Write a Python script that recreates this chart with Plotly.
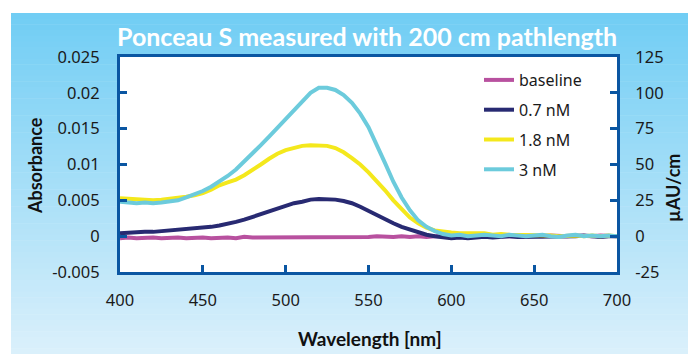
import plotly.graph_objects as go

wavelength = list(range(400, 701, 5))

baseline = [-0.0003, -0.0002, -0.0003, -0.0002, -0.0002, -0.0003, -0.0002, -0.0002, -0.0003, -0.0002,
            -0.0002, -0.0003, -0.0002, -0.0002, -0.0003, -0.0001, -0.0002, -0.0002, -0.0001, -0.0002,
            -0.0002, -0.0001, -0.0002, -0.0001, -0.0001, -0.0002, -0.0001, -0.0001, -0.0002, -0.0001,
            -0.0001, 0.0000, -0.0001, -0.0001, 0.0000, -0.0001, 0.0000, -0.0001, 0.0000, 0.0000,
            -0.0001, 0.0000, 0.0000, -0.0001, 0.0000, 0.0000, 0.0000, -0.0001, 0.0000, 0.0001,
            0.0000, 0.0000, 0.0001, 0.0000, 0.0000, 0.0001, 0.0000, 0.0000, 0.0001, 0.0000, 0.0000]

nm07 = [0.0004, 0.0005, 0.0005, 0.0006, 0.0006, 0.0007, 0.0008, 0.0009, 0.0010, 0.0011,
        0.0011, 0.0013, 0.0015, 0.0017, 0.0020, 0.0023, 0.0027, 0.0030, 0.0034, 0.0039,
        0.0043, 0.0046, 0.0048, 0.0051, 0.0052, 0.0052, 0.0051, 0.0049, 0.0046, 0.0041,
        0.0035, 0.0029, 0.0023, 0.0018, 0.0013, 0.0009, 0.0006, 0.0002, 0.0000, -0.0002,
        -0.0003, -0.0002, -0.0003, -0.0002, -0.0001, -0.0002, -0.0001, 0.0000, -0.0001, -0.0001,
        0.0000, -0.0001, 0.0000, 0.0000, -0.0001, 0.0000, 0.0001, 0.0000, -0.0001, 0.0000, 0.0000]

nm18 = [0.0053, 0.0052, 0.0051, 0.0050, 0.0050, 0.0051, 0.0052, 0.0053, 0.0055, 0.0057,
        0.0060, 0.0065, 0.0071, 0.0075, 0.0079, 0.0085, 0.0092, 0.0100, 0.0108, 0.0115,
        0.0120, 0.0123, 0.0126, 0.0127, 0.0127, 0.0126, 0.0123, 0.0117, 0.0109, 0.0100,
        0.0089, 0.0077, 0.0064, 0.0050, 0.0037, 0.0026, 0.0018, 0.0012, 0.0008, 0.0006,
        0.0005, 0.0004, 0.0004, 0.0003, 0.0004, 0.0002, 0.0003, 0.0002, 0.0002, 0.0001,
        0.0002, 0.0001, 0.0001, 0.0000, 0.0001, 0.0001, 0.0000, 0.0001, 0.0000, 0.0001, 0.0000]

nm3 = [0.0048, 0.0047, 0.0046, 0.0047, 0.0046, 0.0047, 0.0049, 0.0050, 0.0054, 0.0058,
       0.0063, 0.0069, 0.0076, 0.0084, 0.0093, 0.0104, 0.0116, 0.0127, 0.0139, 0.0151,
       0.0163, 0.0176, 0.0189, 0.0200, 0.0207, 0.0207, 0.0204, 0.0197, 0.0186, 0.0171,
       0.0152, 0.0128, 0.0102, 0.0076, 0.0054, 0.0036, 0.0022, 0.0013, 0.0007, 0.0003,
       0.0001, 0.0002, 0.0000, 0.0001, 0.0002, 0.0001, 0.0000, 0.0002, 0.0001, 0.0000,
       0.0001, 0.0002, 0.0000, -0.0001, 0.0001, 0.0002, 0.0000, 0.0001, 0.0000, 0.0001, 0.0000]

series_names = ["baseline", "0.7 nM", "1.8 nM", "3 nM"]
series_values = [baseline, nm07, nm18, nm3]
series_colors = ["#b8519f", "#282a72", "#f4e81c", "#6ccbdc"]

x_ticks = [400, 450, 500, 550, 600, 650, 700]
y_ticks = [-0.005, 0, 0.005, 0.01, 0.015, 0.02, 0.025]
y_ticklabels = ["-0.005", "0", "0.005", "0.01", "0.015", "0.02", "0.025"]
y2_ticks = [-25, 0, 25, 50, 75, 100, 125]
y2_ticklabels = ["-25", "0", "25", "50", "75", "100", "125"]

W, H = 688, 354
L, R, T, B = 120, 617, 57, 272
pw, ph = R - L, B - T


def px(xp):
    return (xp - L) / pw


def py(yp):
    return (B - yp) / ph


AX = "#0a56a2"
TICKFONT = dict(family="Noto Sans, Open Sans, sans-serif", size=16.5, color="#1a1a1a")
BOLD = "Lato, Roboto, sans-serif"

fig = go.Figure()
for i, (name, vals, col) in enumerate(zip(series_names, series_values, series_colors)):
    fig.add_trace(go.Scatter(x=wavelength, y=vals, name=name, mode="lines",
                             line=dict(color=col, width=4), legendgroup=f"g{i}"))
# invisible trace for the right axis
fig.add_trace(go.Scatter(x=[400], y=[0], yaxis="y2", showlegend=False,
                         mode="markers", marker=dict(opacity=0), hoverinfo="skip"))

shapes = []
# background gradient
n = 60
top_c = (0x70, 0xcd, 0xf4)
bot_c = (0xdb, 0xf0, 0xfb)
y_top, y_bot = 13, H
for k in range(n):
    y0 = y_top + (y_bot - y_top) * k / n
    y1 = y_top + (y_bot - y_top) * (k + 1) / n + 0.5
    t = (k + 0.5) / n
    c = tuple(int(round(a + (b - a) * t)) for a, b in zip(top_c, bot_c))
    shapes.append(dict(type="rect", xref="paper", yref="paper", layer="below",
                       x0=px(11), x1=px(W + 2), y0=py(y1), y1=py(y0),
                       fillcolor="rgb(%d,%d,%d)" % c, line=dict(width=0)))
shapes.append(dict(type="rect", xref="paper", yref="paper", layer="below",
                   x0=0, x1=1, y0=0, y1=1, fillcolor="white", line=dict(width=0)))

annotations = [
    dict(text="<b>Ponceau S measured with 200 cm pathlength</b>", x=px(367), y=py(36),
         xref="paper", yref="paper", showarrow=False, xanchor="center", yanchor="middle",
         font=dict(family=BOLD, size=25, color="white")),
    dict(text="<b>Absorbance</b>", x=px(35), y=py(166), xref="paper", yref="paper",
         showarrow=False, textangle=-90, xanchor="center", yanchor="middle",
         font=dict(family=BOLD, size=18, color="#111111")),
    dict(text="<b>µAU/cm</b>", x=px(673), y=py(188), xref="paper", yref="paper",
         showarrow=False, textangle=-90, xanchor="center", yanchor="middle",
         font=dict(family=BOLD, size=18, color="#111111")),
    dict(text="<b>Wavelength [nm]</b>", x=px(370), y=py(338), xref="paper", yref="paper",
         showarrow=False, xanchor="center", yanchor="middle",
         font=dict(family=BOLD, size=19, color="#111111")),
]

fig.update_layout(
    width=W, height=H,
    margin=dict(l=L, r=W - R, t=T, b=H - B, pad=0),
    paper_bgcolor="white", plot_bgcolor="rgba(0,0,0,0)",
    shapes=shapes, annotations=annotations,
    showlegend=True,
    legend=dict(x=px(479), y=py(63), xanchor="left", yanchor="top",
                bgcolor="rgba(0,0,0,0)",
                font=dict(family="Noto Sans, Open Sans, sans-serif", size=16, color="#1a1a1a"),
                tracegroupgap=6, itemwidth=30),
    xaxis=dict(range=[400, 700], tickvals=x_ticks, ticks="inside", ticklen=7, tickwidth=3,
               tickcolor=AX, showline=True, linecolor=AX, linewidth=3, mirror=True,
               showgrid=False, zeroline=False, tickfont=TICKFONT, ticklabelstandoff=11),
    yaxis=dict(range=[-0.005, 0.025], tickvals=y_ticks, ticktext=y_ticklabels, ticks="inside",
               ticklen=7, tickwidth=3, tickcolor=AX, showline=True, linecolor=AX, linewidth=3,
               showgrid=False, zeroline=False, tickfont=TICKFONT, ticklabelstandoff=14),
    yaxis2=dict(range=[-25, 125], tickvals=y2_ticks, ticktext=y2_ticklabels, overlaying="y",
                side="right", ticks="inside",
                ticklen=7, tickwidth=3, tickcolor=AX, showline=True, linecolor=AX, linewidth=3,
                showgrid=False, zeroline=False, tickfont=TICKFONT, ticklabelstandoff=12),
)

fig.write_html("out.html", config={"displayModeBar": False},
               post_script="document.body.style.margin='0';")
